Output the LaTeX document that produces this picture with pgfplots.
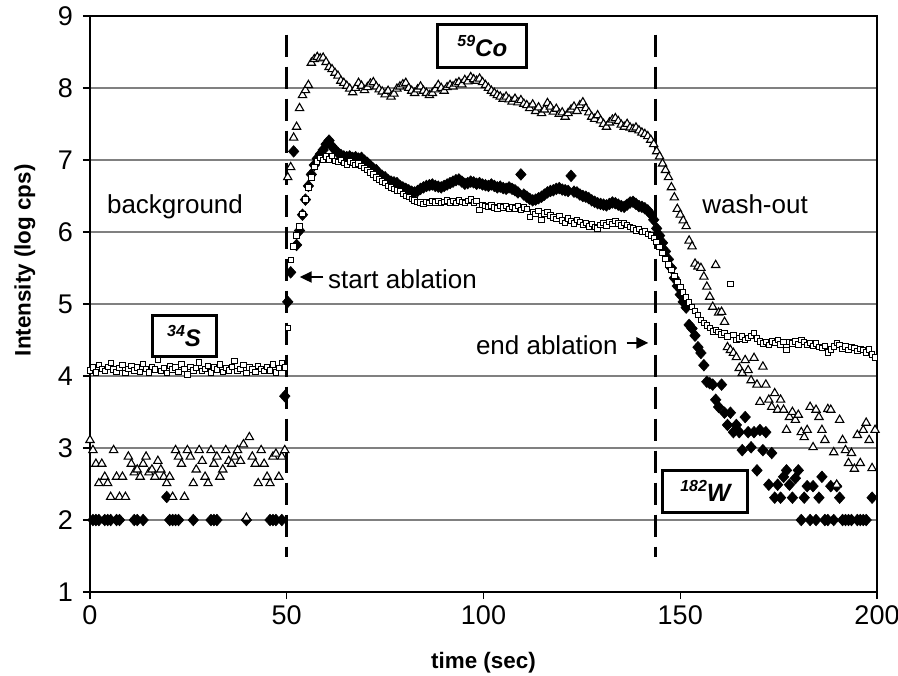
\documentclass[border=0pt]{standalone}
\usepackage{fontspec}
\setmainfont{Liberation Sans}
\usepackage{graphicx}
\usepackage{pgfplots}
\pgfplotsset{compat=1.18}
\usepackage{pgfplotstable}
\usetikzlibrary{arrows.meta}

\pgfplotstableread{
t sq tri dia
0 4.08 3.11 nan
0.75 4.12 2.97 2.0
1.5 4.05 2.78 2.0
2.25 4.15 2.51 2.0
3 4.10 2.78 nan
3.75 4.07 2.60 2.0
4.5 4.13 2.51 2.0
5.25 4.18 2.32 2.0
6 4.09 2.97 nan
6.75 4.06 2.60 2.0
7.5 4.11 2.32 2.0
8.25 4.15 2.60 nan
9 4.04 2.32 nan
9.75 4.10 2.88 nan
10.5 4.14 2.78 nan
11.25 4.08 2.66 2.0
12 4.12 2.70 2.0
12.75 4.06 2.60 nan
13.5 4.17 2.78 2.0
14.25 4.10 2.88 nan
15 4.05 2.66 nan
15.75 4.13 2.70 nan
16.5 4.09 2.60 nan
17.25 4.22 2.82 nan
18 4.07 2.70 nan
18.75 4.11 2.60 nan
19.5 4.04 2.51 2.32
20.25 4.14 2.60 2.0
21 4.09 2.32 2.0
21.75 4.12 2.97 2.0
22.5 4.06 2.88 2.0
23.25 4.16 2.78 nan
24 4.10 2.32 nan
24.75 4.02 2.97 nan
25.5 4.13 2.88 nan
26.25 4.08 2.51 2.0
27 4.11 2.70 nan
27.75 4.19 2.97 nan
28.5 4.07 2.82 nan
29.25 4.10 2.60 nan
30 4.14 2.51 nan
30.75 4.05 2.97 2.0
31.5 4.12 2.78 2.0
32.25 4.09 2.88 2.0
33 4.16 2.60 nan
33.75 4.06 2.70 nan
34.5 4.11 2.97 nan
35.25 4.08 2.82 nan
36 4.13 2.78 nan
36.75 4.21 2.88 nan
37.5 4.07 2.97 nan
38.25 4.10 2.82 nan
39 4.15 3.05 nan
39.75 4.04 2.03 2.0
40.5 4.12 3.15 nan
41.25 4.09 2.88 nan
42 4.06 2.78 nan
42.75 4.14 2.51 nan
43.5 4.10 2.97 nan
44.25 4.07 2.78 nan
45 4.13 2.60 nan
45.75 4.08 2.51 2.0
46.5 4.16 2.88 2.0
47.25 4.05 2.92 2.0
48 4.11 2.60 nan
48.75 4.18 2.88 2.0
49.5 4.12 2.97 3.72
50.25 4.67 6.76 5.03
51 5.61 6.90 5.44
51.75 5.80 7.31 7.12
52.5 5.95 7.46 5.82
53.25 6.08 7.72 6.02
54 6.25 7.90 6.24
54.75 6.45 7.97 6.45
55.5 6.62 8.04 6.64
56.25 6.76 8.35 6.80
57 6.90 8.40 6.93
57.75 6.98 8.43 7.02
58.5 7.03 8.41 7.08
59.25 7.00 8.42 7.14
60 7.05 8.36 7.22
60.75 7.01 8.29 7.27
61.5 7.06 8.26 7.19
62.25 6.99 8.21 7.14
63 6.97 8.17 7.10
63.75 7.00 8.10 7.07
64.5 6.96 8.07 7.05
65.25 6.94 8.03 7.04
66 6.98 7.99 7.05
66.75 6.96 7.94 7.03
67.5 6.93 8.00 7.04
68.25 6.95 8.07 7.02
69 6.92 8.03 7.03
69.75 6.89 7.97 6.99
70.5 6.86 8.01 6.96
71.25 6.83 8.06 6.92
72 6.80 8.08 6.88
72.75 6.76 8.02 6.86
73.5 6.73 7.98 6.80
74.25 6.70 7.95 6.78
75 6.68 7.91 6.76
75.75 6.64 7.96 6.72
76.5 6.62 7.88 6.70
77.25 6.60 7.92 6.69
78 6.58 7.99 6.68
78.75 6.57 8.02 6.64
79.5 6.53 8.05 6.62
80.25 6.50 8.07 6.60
81 6.49 8.00 6.58
81.75 6.46 7.96 6.56
82.5 6.44 7.93 6.55
83.25 6.42 7.98 6.57
84 6.41 8.02 6.60
84.75 6.39 7.96 6.62
85.5 6.42 7.93 6.64
86.25 6.40 7.90 6.65
87 6.43 7.93 6.66
87.75 6.41 7.98 6.64
88.5 6.43 8.04 6.63
89.25 6.40 8.00 6.62
90 6.42 7.96 6.64
90.75 6.44 8.01 6.66
91.5 6.41 8.04 6.68
92.25 6.43 8.02 6.70
93 6.40 8.06 6.72
93.75 6.44 8.08 6.73
94.5 6.42 8.05 6.70
95.25 6.40 8.11 6.67
96 6.43 8.09 6.68
96.75 6.45 8.15 6.70
97.5 6.41 8.12 6.69
98.25 6.43 8.10 6.67
99 6.31 8.13 6.68
99.75 6.38 8.08 6.66
100.5 6.36 8.04 6.65
101.25 6.35 8.00 6.64
102 6.37 7.96 6.66
102.75 6.34 7.93 6.64
103.5 6.33 7.90 6.62
104.25 6.36 7.88 6.63
105 6.34 7.85 6.61
105.75 6.36 7.88 6.60
106.5 6.32 7.84 6.62
107.25 6.35 7.81 6.60
108 6.33 7.85 6.58
108.75 6.36 7.80 6.55
109.5 6.31 7.83 6.80
110.25 6.34 7.78 6.52
111 6.32 7.76 6.49
111.75 6.21 7.72 6.46
112.5 6.28 7.77 6.44
113.25 6.25 7.68 6.45
114 6.29 7.73 6.47
114.75 6.17 7.65 6.49
115.5 6.26 7.70 6.52
116.25 6.28 7.79 6.55
117 6.23 7.74 6.57
117.75 6.20 7.67 6.58
118.5 6.18 7.71 6.60
119.25 6.22 7.64 6.61
120 6.16 7.66 6.59
120.75 6.13 7.60 6.58
121.5 6.19 7.65 6.57
122.25 6.15 7.70 6.78
123 6.12 7.74 6.56
123.75 6.17 7.68 6.55
124.5 6.14 7.76 6.52
125.25 6.10 7.80 6.50
126 6.13 7.72 6.49
126.75 6.08 7.66 6.47
127.5 6.11 7.60 6.44
128.25 6.07 7.57 6.42
129 6.05 7.62 6.40
129.75 6.10 7.55 6.39
130.5 6.13 7.50 6.38
131.25 6.09 7.46 6.37
132 6.14 7.52 6.39
132.75 6.11 7.56 6.41
133.5 6.15 7.58 6.40
134.25 6.12 7.54 6.38
135 6.09 7.49 6.36
135.75 6.13 7.46 6.35
136.5 6.10 7.50 6.38
137.25 6.07 7.45 6.41
138 6.05 7.43 6.42
138.75 6.02 7.45 6.39
139.5 6.04 7.41 6.36
140.25 6.00 7.38 6.35
141 6.01 7.36 6.33
141.75 5.97 7.33 6.30
142.5 5.95 7.28 6.25
143.25 5.92 7.22 6.17
144 5.86 7.12 6.05
144.75 5.79 7.05 5.95
145.5 5.71 6.95 5.85
146.25 5.63 6.86 5.73
147 5.55 6.76 5.62
147.75 5.47 6.62 5.50
148.5 5.39 6.48 5.36
149.25 5.31 6.32 5.25
150 5.24 6.24 5.13
150.75 5.16 6.16 5.03
151.5 5.09 6.08 4.95
152.25 5.02 5.88 4.71
153 4.96 5.80 4.66
153.75 4.90 5.56 4.56
154.5 4.85 5.52 4.40
155.25 4.78 5.50 4.32
156 4.74 5.38 4.15
156.75 4.70 5.24 3.92
157.5 4.67 5.10 3.90
158.25 4.62 4.96 3.88
159 4.64 5.54 3.67
159.75 4.61 4.88 3.57
160.5 4.58 4.89 3.88
161.25 4.60 4.75 3.49
162 4.55 4.40 3.32
162.75 5.28 4.36 3.49
163.5 4.57 4.32 3.22
164.25 4.50 4.26 3.32
165 4.52 4.11 3.22
165.75 4.55 4.04 2.97
166.5 4.50 4.22 3.43
167.25 4.53 4.08 3.22
168 4.56 3.94 3.01
168.75 4.60 4.25 3.22
169.5 4.52 3.88 2.69
170.25 4.48 3.64 3.25
171 4.45 4.13 2.97
171.75 4.47 3.88 3.22
172.5 4.43 3.67 2.49
173.25 4.48 3.57 2.93
174 4.46 3.76 2.31
174.75 4.50 3.53 2.49
175.5 4.44 3.67 2.31
176.25 4.47 3.53 2.60
177 4.36 3.25 2.69
177.75 4.47 3.43 2.49
178.5 4.45 3.50 2.31
179.25 4.48 3.39 2.58
180 4.44 3.46 2.69
180.75 4.50 3.22 2.0
181.5 4.47 3.15 2.31
182.25 4.43 3.25 2.47
183 4.46 3.57 2.0
183.75 4.42 3.01 2.47
184.5 4.45 3.53 2.0
185.25 4.40 3.43 2.31
186 4.39 3.25 2.60
186.75 4.42 3.11 2.0
187.5 4.33 3.54 2.0
188.25 4.37 3.53 2.47
189 4.41 2.94 2.0
189.75 4.46 2.49 2.47
190.5 4.43 3.39 2.31
191.25 4.38 3.11 2.0
192 4.41 2.97 2.0
192.75 4.36 2.79 2.0
193.5 4.40 2.93 2.0
194.25 4.39 2.71 nan
195 4.35 3.18 2.0
195.75 4.38 2.79 2.0
196.5 4.36 3.25 2.0
197.25 4.33 3.35 2.0
198 4.37 3.11 nan
198.75 4.30 2.72 2.31
199.5 4.26 3.25 nan
}\data

\begin{document}
\begin{tikzpicture}
\begin{axis}[
  scale only axis, width=393.5pt, height=288pt,
  xmin=0, xmax=200, ymin=1, ymax=9,
  xtick={0,50,100,150,200}, ytick={1,2,3,4,5,6,7,8,9},
  tick align=outside, xtick pos=left, ytick pos=left,
  major tick length=3.5pt,
  tick style={black, line width=0.6pt},
  ymajorgrids, grid style={draw=black!50, line width=0.7pt},
  axis line style={line width=1.4pt},
  tick label style={font=\fontsize{13.5}{15}\selectfont},
  yticklabel style={xshift=-1.5pt},
  /pgf/number format/assume math mode=true,
  xlabel={time (sec)}, ylabel={Intensity (log cps)},
  label style={font=\fontsize{11.2}{13}\selectfont\bfseries},
  xlabel style={at={(axis description cs:0.5,-0.1233)}, anchor=center},
  ylabel style={at={(axis description cs:-0.0826,0.576)}, anchor=center},
  unbounded coords=discard,
]
\addplot[only marks, mark=diamond*, mark size=2.9pt, mark options={xscale=1.2, fill=black, draw=black, line width=0.3pt}] table[x=t, y=dia] {\data};
\addplot[only marks, mark=square*, mark size=1.35pt, mark options={fill=white, draw=black, line width=0.45pt}] table[x=t, y=sq] {\data};
\addplot[only marks, mark=triangle*, mark size=2.4pt, mark options={fill=white, draw=black, line width=0.55pt}] table[x=t, y=tri] {\data};

\draw[black, line width=1.5pt, dash pattern=on 11pt off 5pt] (axis cs:50,8.74) -- (axis cs:50,1.49);
\draw[black, line width=1.5pt, dash pattern=on 11pt off 5pt] (axis cs:143.6,8.74) -- (axis cs:143.6,1.49);

\node[font=\fontsize{13}{15}\selectfont] at (axis cs:21.6,6.35) {background};
\node[font=\fontsize{13}{15}\selectfont] at (axis cs:169,6.38) {wash-out};
\node[font=\fontsize{13}{15}\selectfont, anchor=west, inner sep=0pt] at (axis cs:60.4,5.34) {start ablation};
\draw[line width=1.1pt, -{Triangle[length=6pt,width=5.5pt]}] (axis cs:59.3,5.375) -- (axis cs:53.3,5.375);
\node[font=\fontsize{13}{15}\selectfont, anchor=east, inner sep=0pt] at (axis cs:134.2,4.43) {end ablation};
\draw[line width=1.1pt, -{Triangle[length=6pt,width=5.5pt]}] (axis cs:136.4,4.46) -- (axis cs:141.9,4.46);

\node[draw=black, line width=1.5pt, minimum width=44.5pt, minimum height=21.5pt, inner sep=0pt, font=\bfseries\itshape] at (axis cs:99.7,8.58) {\raisebox{5pt}{\fontsize{8}{9}\selectfont 59}\fontsize{12}{14}\selectfont Co};
\node[draw=black, line width=1.5pt, minimum width=32pt, minimum height=20.5pt, inner sep=0pt, font=\bfseries\itshape] at (axis cs:23.9,4.56) {\raisebox{5pt}{\fontsize{8}{9}\selectfont 34}\fontsize{12}{14}\selectfont S};
\node[draw=black, line width=1.5pt, minimum width=42.5pt, minimum height=21pt, inner sep=0pt, font=\bfseries\itshape] at (axis cs:156.4,2.40) {\raisebox{5pt}{\fontsize{8}{9}\selectfont 182}\fontsize{12.5}{14}\selectfont W};
\end{axis}
\pgfresetboundingbox
\path (-45pt,-41.5pt) rectangle (404pt,296pt);
\end{tikzpicture}
\end{document}
